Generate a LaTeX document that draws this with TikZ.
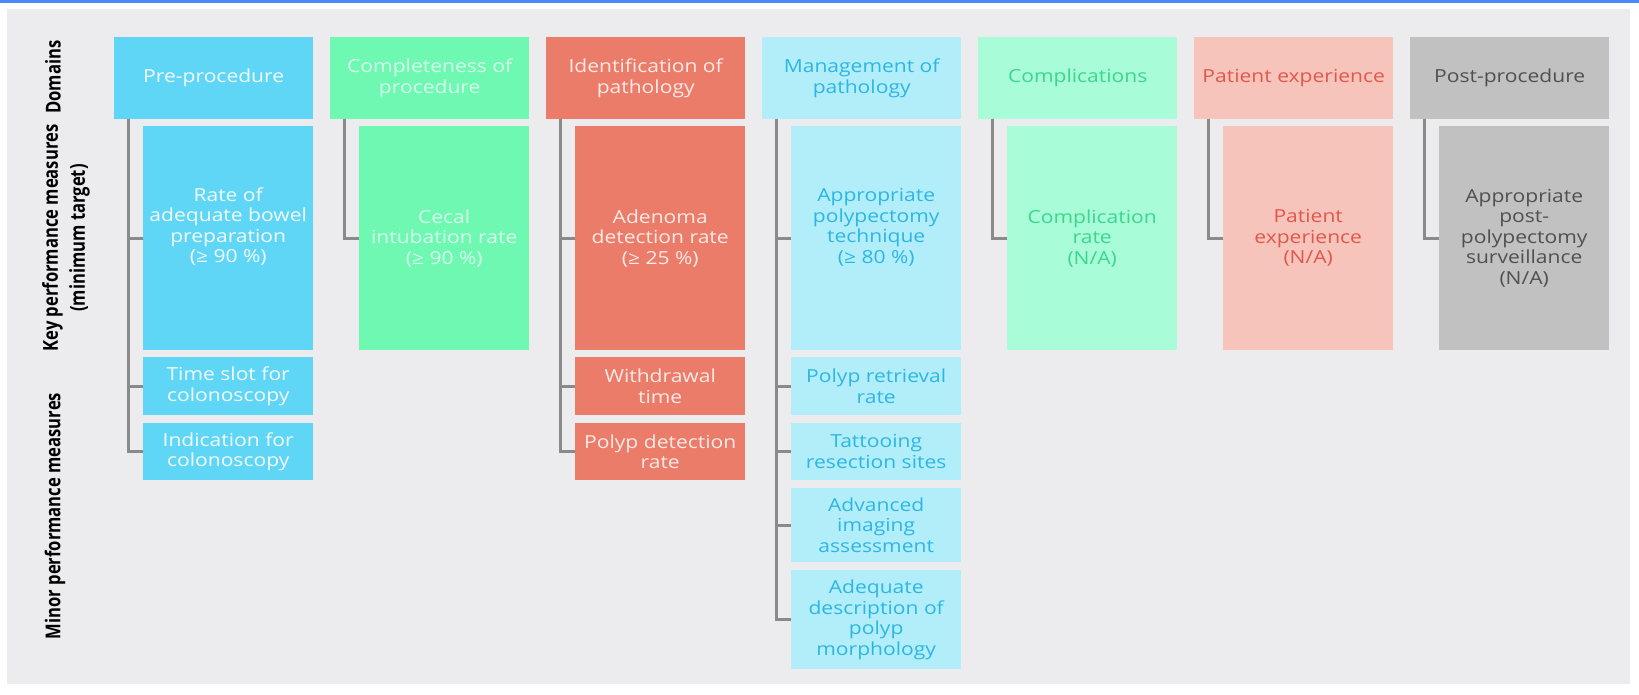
\documentclass[tikz,border=0pt]{standalone}
\usepackage{fontspec}
\setmainfont{Open Sans}[FakeStretch=1.17]
\newfontfamily\labfont{Open Sans}[FakeStretch=0.81]
\usetikzlibrary{calc}
\definecolor{topblue}{HTML}{4A8AF4}
\definecolor{panel}{HTML}{ECECEE}
\definecolor{treegray}{HTML}{8A8A8A}
\definecolor{fA}{HTML}{60D6F6}\definecolor{tA}{HTML}{F2FCFF}
\definecolor{fB}{HTML}{6EF8B2}\definecolor{tB}{HTML}{D8FFEC}
\definecolor{fC}{HTML}{EC7C6A}\definecolor{tC}{HTML}{FCEAE6}
\definecolor{fD}{HTML}{B2EEFA}\definecolor{tD}{HTML}{2DB6E4}
\definecolor{fE}{HTML}{A8FCD7}\definecolor{tE}{HTML}{3CD68E}
\definecolor{fF}{HTML}{F7C4BB}\definecolor{tF}{HTML}{E2574B}
\definecolor{fG}{HTML}{C1C1C1}\definecolor{tG}{HTML}{505050}
\begin{document}
\begin{tikzpicture}[x=1pt,y=-1pt,
  box/.style={inner sep=0pt, anchor=north west, align=center,
    font=\fontsize{18}{20.5}\selectfont},
  head/.style={box, minimum width=199pt, minimum height=82pt},
  kpm/.style={box, minimum width=170pt, minimum height=224pt},
  rowa/.style={box, minimum width=170pt, minimum height=58pt},
  rowb/.style={box, minimum width=170pt, minimum height=57pt},
  rowc/.style={box, minimum width=170pt, minimum height=74pt},
  rowd/.style={box, minimum width=170pt, minimum height=99pt},
  colA/.style={fill=fA, text=tA}, colB/.style={fill=fB, text=tB},
  colC/.style={fill=fC, text=tC}, colD/.style={fill=fD, text=tD},
  colE/.style={fill=fE, text=tE}, colF/.style={fill=fF, text=tF},
  colG/.style={fill=fG, text=tG},
  tree/.style={draw=treegray, line width=3pt},
  lab/.style={rotate=90, align=center, inner sep=0pt, text=black,
    font=\labfont\bfseries\fontsize{20.5}{27}\selectfont}]
\useasboundingbox (0,0) rectangle (1639,694);
\fill[white] (0,0) rectangle (1639,694);
\fill[topblue] (0,0) rectangle (1639,3);
\fill[panel] (7,9) rectangle (1630,684);
% headers
\node[head,colA] (h0) at (114,37) {Pre-procedure};
\node[head,colB] (h1) at (330,37) {Completeness of\\procedure};
\node[head,colC] (h2) at (546,37) {Identification of\\pathology};
\node[head,colD] (h3) at (762,37) {Management of\\pathology};
\node[head,colE] (h4) at (978,37) {Complications};
\node[head,colF] (h5) at (1194,37) {Patient experience};
\node[head,colG] (h6) at (1410,37) {Post-procedure};
% key performance measures
\node[kpm,colA] (k0) at (143,126) {Rate of\\adequate bowel\\preparation\\(≥ 90 \%)\\[6pt]};
\node[kpm,colB] (k1) at (359,126) {Cecal\\intubation rate\\(≥ 90 \%)};
\node[kpm,colC] (k2) at (575,126) {Adenoma\\detection rate\\(≥ 25 \%)};
\node[kpm,colD] (k3) at (791,126) {Appropriate\\polypectomy\\technique\\(≥ 80 \%)\\[4pt]};
\node[kpm,colE] (k4) at (1007,126) {Complication\\rate\\(N/A)};
\node[kpm,colF] (k5) at (1223,126) {Patient\\experience\\(N/A)};
\node[kpm,colG] (k6) at (1439,126) {Appropriate\\post-\\polypectomy\\surveillance\\(N/A)};
% minor performance measures
\node[rowa,colA] (m0a) at (143,357) {Time slot for\\colonoscopy};
\node[rowb,colA] (m0b) at (143,423) {Indication for\\colonoscopy};
\node[rowa,colC] (m2a) at (575,357) {Withdrawal\\time};
\node[rowb,colC] (m2b) at (575,423) {Polyp detection\\rate};
\node[rowa,colD] (m3a) at (791,357) {Polyp retrieval\\rate};
\node[rowb,colD] (m3b) at (791,423) {Tattooing\\resection sites};
\node[rowc,colD] (m3c) at (791,488) {Advanced\\imaging\\assessment};
\node[rowd,colD] (m3d) at (791,570) {Adequate\\description of\\polyp\\morphology};
% connectors
\foreach \h/\c in {h0/k0,h0/m0a,h0/m0b,h1/k1,h2/k2,h2/m2a,h2/m2b,
  h3/k3,h3/m3a,h3/m3b,h3/m3c,h3/m3d,h4/k4,h5/k5,h6/k6}
  \draw[tree] ($(\h.south west)+(14.5,0)$) |- (\c.west);
% row labels
\node[lab] (ldom) at (53,77) {Domains};
\node[lab] (lkpm) at (66,238) {Key performance measures\\(minimum target)};
\node[lab] (lmin) at (55,516) {Minor performance measures};
\end{tikzpicture}
\end{document}
